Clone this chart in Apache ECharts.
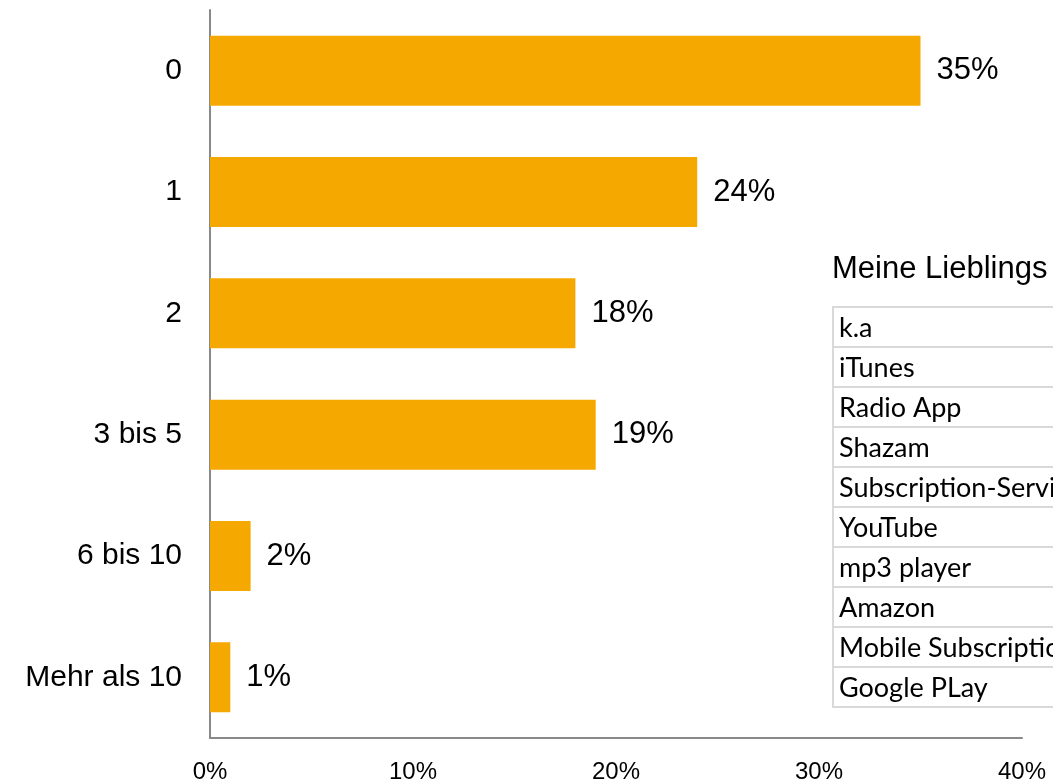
<!DOCTYPE html>
<html>
<head>
<meta charset="utf-8">
<script src="https://cdn.jsdelivr.net/npm/echarts@6/dist/echarts.min.js"></script>
<style>
html,body{margin:0;padding:0;background:#fff;}
#chart{width:1053px;height:784px;}
</style>
</head>
<body>
<div id="chart"></div>
<script>
const categories = ['0', '1', '2', '3 bis 5', '6 bis 10', 'Mehr als 10'];
const values = [35, 24, 18, 19, 2, 1];
const xTicks = [0, 10, 20, 30, 40];
const tableTitle = 'Meine Lieblings';
const tableRows = ['k.a', 'iTunes', 'Radio App', 'Shazam', 'Subscription-Service', 'YouTube', 'mp3 player', 'Amazon', 'Mobile Subscription', 'Google PLay'];

const chart = echarts.init(document.getElementById('chart'));

const tableLeft = 833, tableTop = 307, rowH = 40;
const graphics = [{
  type: 'text', left: tableLeft - 1, top: 254,
  style: { text: tableTitle, font: '31px "Liberation Sans", Arial, sans-serif', fill: '#000' }
}];
tableRows.forEach((name, i) => {
  graphics.push({
    type: 'rect',
    shape: { x: tableLeft, y: tableTop + i * rowH, width: 400, height: rowH },
    style: { fill: '#fff', stroke: '#d9d9d9', lineWidth: 2 }
  });
  graphics.push({
    type: 'text',
    x: tableLeft + 6, y: tableTop + i * rowH + rowH / 2 + 1,
    style: { text: name, font: '27px Lato, "Open Sans", sans-serif', fill: '#000', verticalAlign: 'middle' }
  });
});

chart.setOption({
  animation: false,
  backgroundColor: '#fff',
  grid: { left: 210, top: 10, width: 812, height: 730, containLabel: false },
  xAxis: {
    type: 'value', min: xTicks[0], max: xTicks[xTicks.length - 1], interval: 10,
    axisLine: { show: true, lineStyle: { color: '#898989', width: 2 } },
    axisTick: { show: false },
    splitLine: { show: false },
    axisLabel: { formatter: '{value}%', fontSize: 24, fontFamily: '"Liberation Sans", Arial, sans-serif', color: '#000', margin: 22 }
  },
  yAxis: {
    type: 'category', data: categories, inverse: true,
    axisLine: { show: true, lineStyle: { color: '#898989', width: 2 } },
    axisTick: { show: false },
    axisLabel: { fontSize: 30, fontFamily: '"Liberation Sans", Arial, sans-serif', color: '#000', margin: 28, padding: [8, 0, 0, 0] }
  },
  series: [{
    type: 'bar', data: values, barWidth: 70,
    itemStyle: { color: '#F5A800' },
    label: { show: true, position: 'right', distance: 16, formatter: '{c}%', fontSize: 31, fontFamily: '"Liberation Sans", Arial, sans-serif', color: '#000', padding: [10, 0, 0, 0] }
  }],
  graphic: graphics
});
</script>
</body>
</html>
